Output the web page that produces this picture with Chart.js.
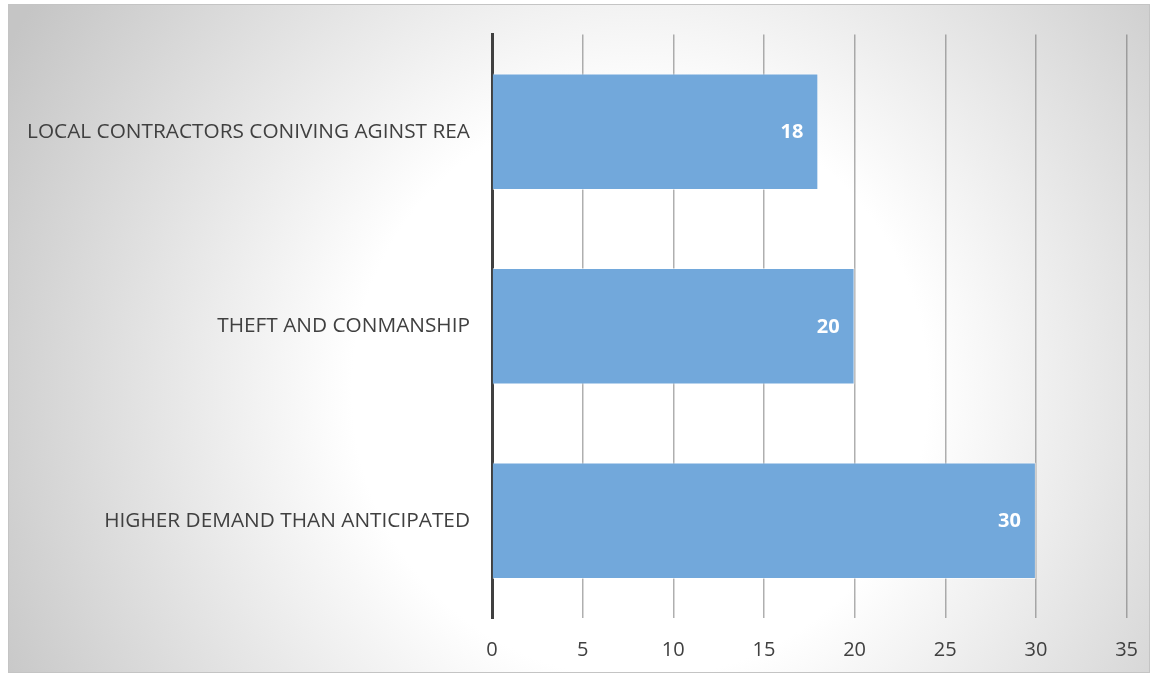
<!DOCTYPE html>
<html>
<head>
<meta charset="utf-8">
<script src="https://cdn.jsdelivr.net/npm/chart.js@4.4.1/dist/chart.umd.min.js"></script>
<style>
    html, body { margin: 0; padding: 0; background: #ffffff; }
    #wrap { width: 1158px; height: 677px; position: relative; }
</style>
</head>
<body>
<div id="wrap"><canvas id="barChart" width="1158" height="677"></canvas></div>
<script>
const categories = [
    'LOCAL CONTRACTORS CONIVING AGINST REA',
    'THEFT AND CONMANSHIP',
    'HIGHER DEMAND THAN ANTICIPATED'
];
const counts = [18, 20, 30];
const xTicks = [0, 5, 10, 15, 20, 25, 30, 35];

const fontFamily = '"Open Sans", "Liberation Sans", sans-serif';

// grey frame with a soft radial light behind the plot
const backdrop = {
    id: 'backdrop',
    beforeDraw(chart) {
        const ctx = chart.ctx;
        const w = chart.width, h = chart.height;
        ctx.save();
        ctx.fillStyle = '#ffffff';
        ctx.fillRect(0, 0, w, h);
        const g = ctx.createRadialGradient(640, 390, 0, 640, 390, 720);
        g.addColorStop(0, '#ffffff');
        g.addColorStop(0.4, '#ffffff');
        g.addColorStop(1, '#c5c5c5');
        ctx.fillStyle = g;
        ctx.fillRect(8.5, 4.5, w - 17, h - 9);
        ctx.strokeStyle = '#c4c4c4';
        ctx.lineWidth = 1;
        ctx.strokeRect(8.5, 4.5, w - 17, h - 9);
        ctx.restore();
    }
};

// white value label near the end of each bar
const barValues = {
    id: 'barValues',
    afterDatasetsDraw(chart) {
        const ctx = chart.ctx;
        const meta = chart.getDatasetMeta(0);
        ctx.save();
        ctx.font = 'bold 20px ' + fontFamily;
        ctx.fillStyle = '#ffffff';
        ctx.textAlign = 'right';
        ctx.textBaseline = 'middle';
        meta.data.forEach((bar, i) => {
            ctx.fillText(String(counts[i]), bar.x - 15, bar.y + 1);
        });
        ctx.restore();
    }
};

new Chart(document.getElementById('barChart').getContext('2d'), {
    type: 'bar',
    data: {
        labels: categories,
        datasets: [{
            data: counts,
            backgroundColor: '#72a8db',
            borderColor: 'rgba(255,255,255,0.55)',
            borderWidth: 1,
            borderSkipped: 'start',
            categoryPercentage: 1,
            barPercentage: 0.6
        }]
    },
    options: {
        indexAxis: 'y',
        responsive: false,
        animation: false,
        devicePixelRatio: 1,
        layout: { padding: { top: 34, right: 29, left: 0, bottom: 0 } },
        plugins: {
            legend: { display: false },
            tooltip: { enabled: false }
        },
        scales: {
            x: {
                min: 0,
                max: 35,
                afterBuildTicks(scale) {
                    scale.ticks = xTicks.map(v => ({ value: v }));
                },
                afterFit(scale) { scale.height = 59; },
                grid: {
                    color: 'rgba(110,110,110,0.55)',
                    lineWidth: 1.5,
                    drawTicks: false
                },
                border: { display: false },
                ticks: {
                    padding: 20,
                    color: '#404040',
                    font: { family: fontFamily, size: 20 }
                }
            },
            y: {
                afterFit(scale) { scale.width = 492; },
                grid: { display: false, drawTicks: false },
                border: { color: '#404040', width: 3 },
                ticks: {
                    padding: 22,
                    color: '#404040',
                    font: { family: fontFamily, size: 20.8 }
                }
            }
        }
    },
    plugins: [backdrop, barValues]
});
</script>
</body>
</html>
